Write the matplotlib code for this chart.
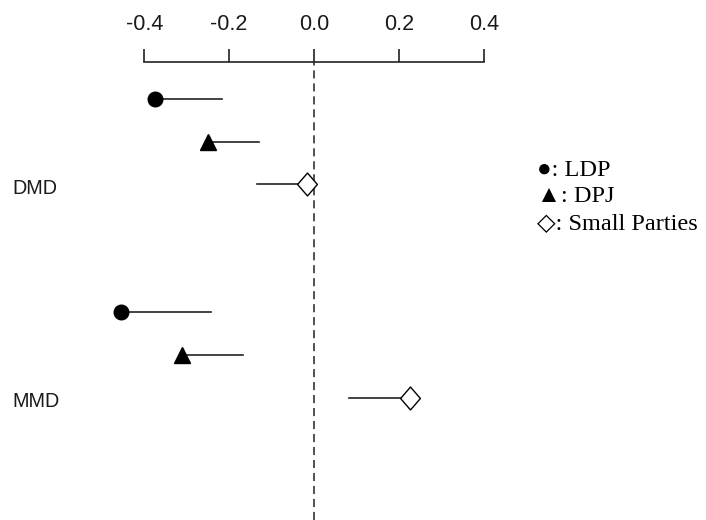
import matplotlib.pyplot as plt
import matplotlib.transforms as mtransforms
from matplotlib.path import Path

# Estimates, two district types x three parties
districts = ['DMD', 'MMD']
parties = ['LDP', 'DPJ', 'Small Parties']
est = [[-0.375, -0.250, -0.017],
       [-0.455, -0.310, 0.226]]
seg_lo = [[-0.375, -0.250, -0.135],
          [-0.455, -0.310, 0.082]]
seg_hi = [[-0.216, -0.130, -0.017],
          [-0.243, -0.168, 0.226]]
rows = [[1, 2, 3], [6, 7, 8]]
xticks = [-0.4, -0.2, 0.0, 0.2, 0.4]

# slightly tall open diamond
diamond = Path([(0, 1.1), (0.95, 0), (0, -1.1), (-0.95, 0), (0, 1.1)],
               [Path.MOVETO, Path.LINETO, Path.LINETO, Path.LINETO, Path.CLOSEPOLY])
markers = ['o', '^', diamond]
msizes = [10.5, 11, 16.5]
faces = ['black', 'black', 'white']

fig = plt.figure(figsize=(7.06, 5.20), dpi=100)
ax = fig.add_axes([90 / 706, 0, 430 / 706, 458 / 520])

for g in range(len(districts)):
    for k in range(len(parties)):
        y = rows[g][k]
        ax.plot([seg_lo[g][k], seg_hi[g][k]], [y, y], color='#222222', lw=1.2, zorder=2)
        ax.plot(est[g][k], y, marker=markers[k], ms=msizes[k], mfc=faces[k],
                mec='black', mew=1.0, ls='none', zorder=3)

ax.axvline(0, color='#222222', lw=1.1, ls=(0, (5.3, 3.2)), zorder=1)

ax.set_xlim(-0.528, 0.4855)
ax.set_ylim(10.87, 0.1325)

# axis on top only, spanning -0.4..0.4
for s in ['left', 'right', 'bottom']:
    ax.spines[s].set_visible(False)
ax.spines['top'].set_bounds(-0.4, 0.4)
ax.spines['top'].set_color('#222222')
ax.spines['top'].set_linewidth(1.2)
ax.xaxis.tick_top()
ax.set_xticks(xticks)
ax.set_xticklabels([f'{t:.1f}' for t in xticks], family='Liberation Sans',
                   fontsize=15.5, color='#1a1a1a')
ax.tick_params(axis='x', direction='out', length=9.4, width=1.2,
               color='#222222', pad=10)
ax.set_yticks([])

# district labels at the left edge
trans = mtransforms.blended_transform_factory(fig.transFigure, ax.transData)
for g, name in enumerate(districts):
    ax.text(12 / 706, rows[g][2] + 0.1, name, transform=trans, ha='left', va='center',
            family='Liberation Sans', fontsize=14.2, color='#1a1a1a')

# legend as plain text
fam = ['Liberation Serif', 'DejaVu Sans']
legend_lines = ['\u25cf: LDP', '\u25b2: DPJ', '\u25c7: Small Parties']
legend_y = [170, 197, 224]
for txt, yp in zip(legend_lines, legend_y):
    fig.text(537 / 706, 1 - yp / 520, txt, ha='left', va='center',
             family=fam, fontsize=17.5, color='black')

fig.savefig('out.png', dpi=100)
